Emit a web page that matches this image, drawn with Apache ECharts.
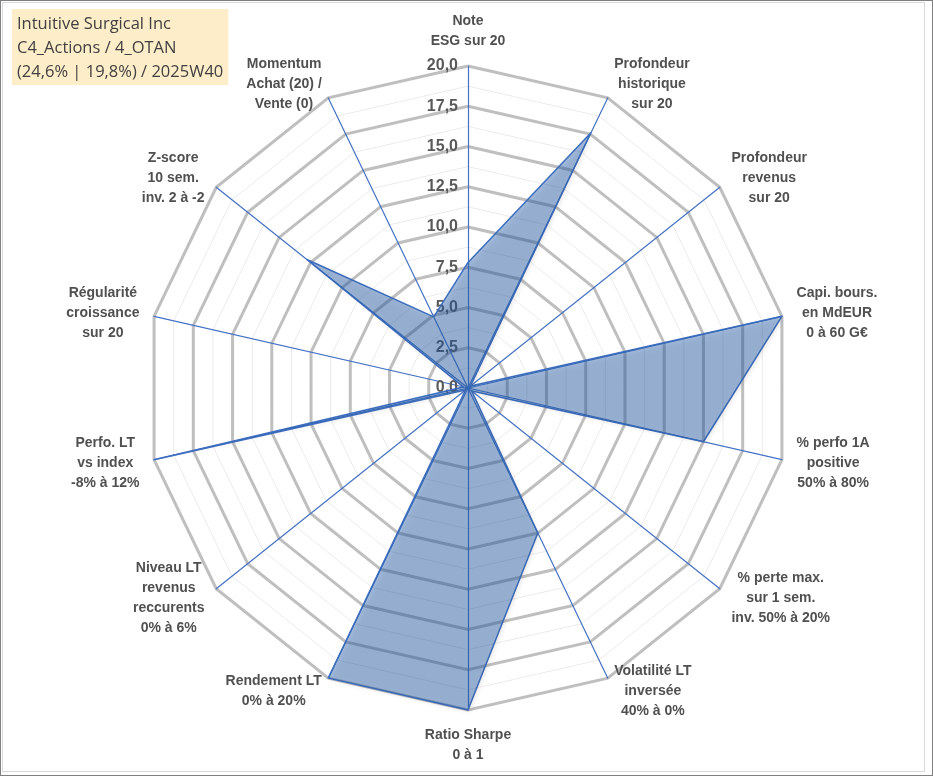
<!DOCTYPE html>
<html>
<head>
<meta charset="utf-8">
<script src="https://cdn.jsdelivr.net/npm/echarts@6/dist/echarts.min.js"></script>
<style>
  html, body { margin: 0; padding: 0; background: #fff; }
  #frame { position: relative; width: 931px; height: 774px; border: 1px solid #7f7f7f; }
  #chart { position: absolute; left: 1px; top: 1px; width: 921px; height: 768px; border: 1px solid #d9d9d9; }
</style>
</head>
<body>
<div id="frame"><div id="chart"></div></div>
<script>
// axes in clockwise order, starting at the top
const axisNames = [
  'Note\nESG sur 20',
  'Profondeur\nhistorique\nsur 20',
  'Profondeur\nrevenus\nsur 20',
  'Capi. bours.\nen MdEUR\n0 à 60 G€',
  '% perfo 1A\npositive\n50% à 80%',
  '% perte max.\nsur 1 sem.\ninv. 50% à 20%',
  'Volatilité LT\ninversée\n40% à 0%',
  'Ratio Sharpe\n0 à 1',
  'Rendement LT\n0% à 20%',
  'Niveau LT\nrevenus\nreccurents\n0% à 6%',
  'Perfo. LT\nvs index\n-8% à 12%',
  'Régularité\ncroissance\nsur 20',
  'Z-score\n10 sem.\ninv. 2 à -2',
  'Momentum\nAchat (20) /\nVente (0)'
];
const scores = [7.8, 17.6, 0.2, 20, 15.0, 0.3, 10.0, 20, 20, 0.2, 20, 0.3, 12.8, 4.9];
const scaleMax = 20;
const titleLines = ['Intuitive Surgical Inc', 'C4_Actions / 4_OTAN', '(24,6% | 19,8%) / 2025W40'];

// echarts radar runs counter-clockwise: keep the first axis, reverse the rest
const order = [0].concat(axisNames.map((_, i) => i).slice(1).reverse());

const indicators = order.map((i, k) => {
  const ind = { name: axisNames[i], min: 0, max: scaleMax };
  if (k === 0) ind.axisLabel = { show: true };
  return ind;
});
const values = order.map(i => scores[i]);

const center = [465, 385];
const radius = 322;

const chart = echarts.init(document.getElementById('chart'));

const option = {
  animation: false,
  title: {
    text: titleLines.join('\n'),
    left: 9,
    top: 6,
    backgroundColor: '#fdedc9',
    padding: [3, 5, 1, 5],
    textStyle: {
      fontFamily: 'Open Sans',
      fontSize: 16.5,
      fontWeight: 'normal',
      color: '#404040',
      lineHeight: 24
    }
  },
  radar: [
    {
      // faint minor grid
      center: center,
      radius: radius,
      shape: 'polygon',
      splitNumber: 16,
      indicator: indicators.map(d => ({ name: '', min: 0, max: scaleMax })),
      axisName: { show: false },
      axisLine: { show: false },
      axisTick: { show: false },
      axisLabel: { show: false },
      splitArea: { show: false },
      splitLine: { lineStyle: { color: '#ebebeb', width: 1 } }
    },
    {
      center: center,
      radius: radius,
      shape: 'polygon',
      splitNumber: 8,
      indicator: indicators,
      axisNameGap: 15,
      axisName: {
        formatter: function (value) {
          return value.split('\n').map(s => '{c|' + s + '}').join('\n');
        },
        rich: {
          c: {
            align: 'center',
            fontFamily: 'Liberation Sans',
            fontWeight: 'bold',
            fontSize: 14,
            lineHeight: 20,
            color: '#505050'
          }
        }
      },
      axisLine: { show: true, lineStyle: { color: '#4472c4', width: 1.2 } },
      axisTick: { show: false },
      axisLabel: {
        show: false,
        margin: 10,
        fontFamily: 'Liberation Sans',
        fontWeight: 'bold',
        fontSize: 16,
        color: '#595959',
        formatter: function (v) {
          return v.toFixed(1).replace('.', ',');
        }
      },
      splitArea: { show: false },
      splitLine: { lineStyle: { color: '#bfbfbf', width: 3 } }
    }
  ],
  series: [{
    type: 'radar',
    radarIndex: 1,
    symbol: 'none',
    lineStyle: { color: '#4472c4', width: 1.5 },
    areaStyle: {
      color: 'rgba(40, 96, 172, 0.62)',
      shadowColor: 'rgba(0, 0, 0, 0.2)',
      shadowBlur: 4,
      shadowOffsetX: 2,
      shadowOffsetY: 2
    },
    data: [{ value: values, name: 'Intuitive Surgical Inc' }]
  }]
};

chart.setOption(option);
</script>
</body>
</html>
